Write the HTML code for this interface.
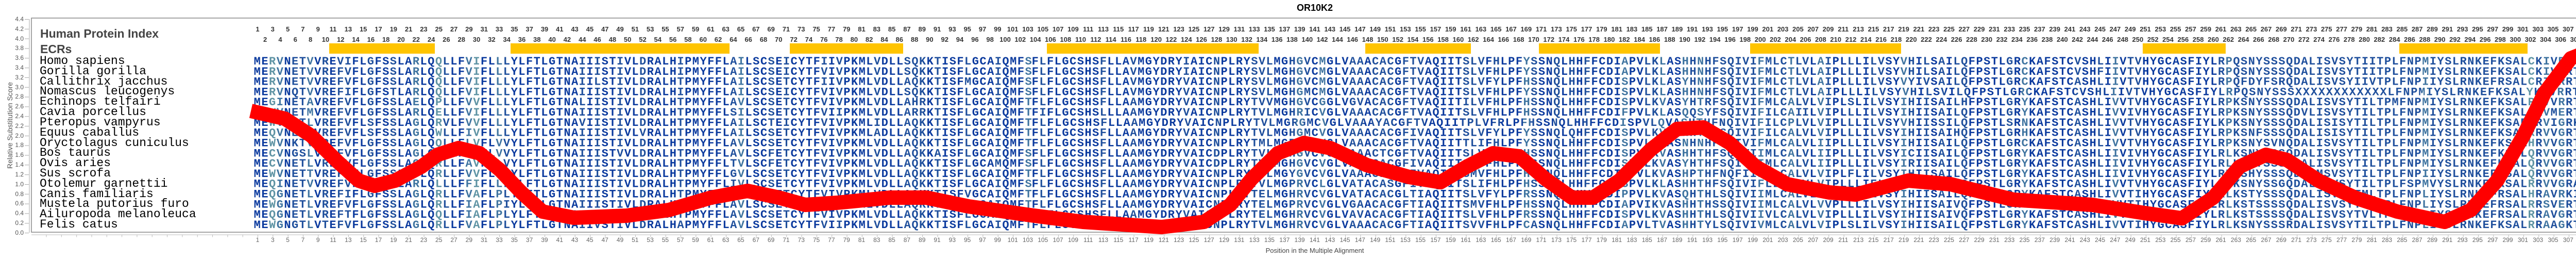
<!DOCTYPE html>
<html><head><meta charset="utf-8"><style>
body{margin:0;width:5102px;height:500px;overflow:hidden;background:#fff;position:relative;font-family:"Liberation Sans",sans-serif}
.sp{position:absolute;left:77px;top:109px;font:23px/19.81px "Liberation Mono",monospace;white-space:pre;color:#000}
.nr{position:absolute;display:flex;white-space:nowrap}
.nr i{font-style:normal;width:29.32px;min-width:29.32px;max-width:29.32px;flex:none;text-align:center;overflow:visible}
.top{font:bold 13px/16px "Liberation Sans",sans-serif;color:#333}
.bot{font:12px/14px "Liberation Sans",sans-serif;color:#666}
.hd{position:absolute;left:78px;font:bold 23px "Liberation Sans",sans-serif;color:#444}
</style></head><body>
<div class="hd" style="top:52px;">Human Protein Index</div>
<div class="hd" style="top:82px;">ECRs</div>
<div class="sp">Homo sapiens
Gorilla gorilla
Callithrix jacchus
Nomascus leucogenys
Echinops telfairi
Cavia porcellus
Pteropus vampyrus
Equus caballus
Oryctolagus cuniculus
Bos taurus
Ovis aries
Sus scrofa
Otolemur garnettii
Canis familiaris
Mustela putorius furo
Ailuropoda melanoleuca
Felis catus</div>
<div class="nr top" style="left:485.34px;top:49px"><i>1</i><i>3</i><i>5</i><i>7</i><i>9</i><i>11</i><i>13</i><i>15</i><i>17</i><i>19</i><i>21</i><i>23</i><i>25</i><i>27</i><i>29</i><i>31</i><i>33</i><i>35</i><i>37</i><i>39</i><i>41</i><i>43</i><i>45</i><i>47</i><i>49</i><i>51</i><i>53</i><i>55</i><i>57</i><i>59</i><i>61</i><i>63</i><i>65</i><i>67</i><i>69</i><i>71</i><i>73</i><i>75</i><i>77</i><i>79</i><i>81</i><i>83</i><i>85</i><i>87</i><i>89</i><i>91</i><i>93</i><i>95</i><i>97</i><i>99</i><i>101</i><i>103</i><i>105</i><i>107</i><i>109</i><i>111</i><i>113</i><i>115</i><i>117</i><i>119</i><i>121</i><i>123</i><i>125</i><i>127</i><i>129</i><i>131</i><i>133</i><i>135</i><i>137</i><i>139</i><i>141</i><i>143</i><i>145</i><i>147</i><i>149</i><i>151</i><i>153</i><i>155</i><i>157</i><i>159</i><i>161</i><i>163</i><i>165</i><i>167</i><i>169</i><i>171</i><i>173</i><i>175</i><i>177</i><i>179</i><i>181</i><i>183</i><i>185</i><i>187</i><i>189</i><i>191</i><i>193</i><i>195</i><i>197</i><i>199</i><i>201</i><i>203</i><i>205</i><i>207</i><i>209</i><i>211</i><i>213</i><i>215</i><i>217</i><i>219</i><i>221</i><i>223</i><i>225</i><i>227</i><i>229</i><i>231</i><i>233</i><i>235</i><i>237</i><i>239</i><i>241</i><i>243</i><i>245</i><i>247</i><i>249</i><i>251</i><i>253</i><i>255</i><i>257</i><i>259</i><i>261</i><i>263</i><i>265</i><i>267</i><i>269</i><i>271</i><i>273</i><i>275</i><i>277</i><i>279</i><i>281</i><i>283</i><i>285</i><i>287</i><i>289</i><i>291</i><i>293</i><i>295</i><i>297</i><i>299</i><i>301</i><i>303</i><i>305</i><i>307</i><i>309</i><i>311</i><i>N/A</i></div>
<div class="nr top" style="left:500px;top:69px"><i>2</i><i>4</i><i>6</i><i>8</i><i>10</i><i>12</i><i>14</i><i>16</i><i>18</i><i>20</i><i>22</i><i>24</i><i>26</i><i>28</i><i>30</i><i>32</i><i>34</i><i>36</i><i>38</i><i>40</i><i>42</i><i>44</i><i>46</i><i>48</i><i>50</i><i>52</i><i>54</i><i>56</i><i>58</i><i>60</i><i>62</i><i>64</i><i>66</i><i>68</i><i>70</i><i>72</i><i>74</i><i>76</i><i>78</i><i>80</i><i>82</i><i>84</i><i>86</i><i>88</i><i>90</i><i>92</i><i>94</i><i>96</i><i>98</i><i>100</i><i>102</i><i>104</i><i>106</i><i>108</i><i>110</i><i>112</i><i>114</i><i>116</i><i>118</i><i>120</i><i>122</i><i>124</i><i>126</i><i>128</i><i>130</i><i>132</i><i>134</i><i>136</i><i>138</i><i>140</i><i>142</i><i>144</i><i>146</i><i>148</i><i>150</i><i>152</i><i>154</i><i>156</i><i>158</i><i>160</i><i>162</i><i>164</i><i>166</i><i>168</i><i>170</i><i>172</i><i>174</i><i>176</i><i>178</i><i>180</i><i>182</i><i>184</i><i>186</i><i>188</i><i>190</i><i>192</i><i>194</i><i>196</i><i>198</i><i>200</i><i>202</i><i>204</i><i>206</i><i>208</i><i>210</i><i>212</i><i>214</i><i>216</i><i>218</i><i>220</i><i>222</i><i>224</i><i>226</i><i>228</i><i>230</i><i>232</i><i>234</i><i>236</i><i>238</i><i>240</i><i>242</i><i>244</i><i>246</i><i>248</i><i>250</i><i>252</i><i>254</i><i>256</i><i>258</i><i>260</i><i>262</i><i>264</i><i>266</i><i>268</i><i>270</i><i>272</i><i>274</i><i>276</i><i>278</i><i>280</i><i>282</i><i>284</i><i>286</i><i>288</i><i>290</i><i>292</i><i>294</i><i>296</i><i>298</i><i>300</i><i>302</i><i>304</i><i>306</i><i>308</i><i>310</i><i>312</i></div>
<div class="nr bot" style="left:485.34px;top:458px"><i>1</i><i>3</i><i>5</i><i>7</i><i>9</i><i>11</i><i>13</i><i>15</i><i>17</i><i>19</i><i>21</i><i>23</i><i>25</i><i>27</i><i>29</i><i>31</i><i>33</i><i>35</i><i>37</i><i>39</i><i>41</i><i>43</i><i>45</i><i>47</i><i>49</i><i>51</i><i>53</i><i>55</i><i>57</i><i>59</i><i>61</i><i>63</i><i>65</i><i>67</i><i>69</i><i>71</i><i>73</i><i>75</i><i>77</i><i>79</i><i>81</i><i>83</i><i>85</i><i>87</i><i>89</i><i>91</i><i>93</i><i>95</i><i>97</i><i>99</i><i>101</i><i>103</i><i>105</i><i>107</i><i>109</i><i>111</i><i>113</i><i>115</i><i>117</i><i>119</i><i>121</i><i>123</i><i>125</i><i>127</i><i>129</i><i>131</i><i>133</i><i>135</i><i>137</i><i>139</i><i>141</i><i>143</i><i>145</i><i>147</i><i>149</i><i>151</i><i>153</i><i>155</i><i>157</i><i>159</i><i>161</i><i>163</i><i>165</i><i>167</i><i>169</i><i>171</i><i>173</i><i>175</i><i>177</i><i>179</i><i>181</i><i>183</i><i>185</i><i>187</i><i>189</i><i>191</i><i>193</i><i>195</i><i>197</i><i>199</i><i>201</i><i>203</i><i>205</i><i>207</i><i>209</i><i>211</i><i>213</i><i>215</i><i>217</i><i>219</i><i>221</i><i>223</i><i>225</i><i>227</i><i>229</i><i>231</i><i>233</i><i>235</i><i>237</i><i>239</i><i>241</i><i>243</i><i>245</i><i>247</i><i>249</i><i>251</i><i>253</i><i>255</i><i>257</i><i>259</i><i>261</i><i>263</i><i>265</i><i>267</i><i>269</i><i>271</i><i>273</i><i>275</i><i>277</i><i>279</i><i>281</i><i>283</i><i>285</i><i>287</i><i>289</i><i>291</i><i>293</i><i>295</i><i>297</i><i>299</i><i>301</i><i>303</i><i>305</i><i>307</i><i>309</i><i>311</i><i>313</i></div>
<svg width="5102" height="500" style="position:absolute;left:0;top:0">
<defs>
<linearGradient id="g1" gradientUnits="userSpaceOnUse" x1="492.67" y1="0" x2="2002.65" y2="0"><stop offset="0" stop-color="#0b3a9e"/><stop offset="1" stop-color="#0b3a9e"/></linearGradient>
<linearGradient id="g2" gradientUnits="userSpaceOnUse" x1="2002.65" y1="0" x2="3497.97" y2="0"><stop offset="0" stop-color="#0b3a9e"/><stop offset="1" stop-color="#0b3a9e"/></linearGradient>
<linearGradient id="g3" gradientUnits="userSpaceOnUse" x1="3497.97" y1="0" x2="5081.25" y2="0"><stop offset="0" stop-color="#0b3a9e"/><stop offset="1" stop-color="#0b3a9e"/></linearGradient>
</defs>
<text x="2552" y="21" text-anchor="middle" font-family="Liberation Sans" font-weight="bold" font-size="18">OR10K2</text>
<rect x="61" y="35" width="5029" height="415" fill="none" stroke="#888" stroke-width="1.5"/>
<line x1="57" y1="37" x2="57" y2="451" stroke="#aaa"/>
<line x1="61" y1="455" x2="5090" y2="455" stroke="#bbb"/>
<line x1="89.52" y1="457" x2="5090" y2="457" stroke="#bbb" stroke-width="5" stroke-dasharray="1 28.32"/>
<line x1="52" y1="37" x2="52" y2="452" stroke="#aaa" stroke-width="8" stroke-dasharray="1 17.82"/>
<g font-family="Liberation Sans" font-size="12" fill="#555" text-anchor="end">
<text x="46" y="455">0.0</text><text x="46" y="436">0.2</text><text x="46" y="417">0.4</text><text x="46" y="398">0.6</text><text x="46" y="380">0.8</text><text x="46" y="361">1.0</text><text x="46" y="342">1.2</text><text x="46" y="323">1.4</text><text x="46" y="304">1.6</text><text x="46" y="285">1.8</text><text x="46" y="267">2.0</text><text x="46" y="248">2.2</text><text x="46" y="229">2.4</text><text x="46" y="210">2.6</text><text x="46" y="191">2.8</text><text x="46" y="173">3.0</text><text x="46" y="154">3.2</text><text x="46" y="135">3.4</text><text x="46" y="116">3.6</text><text x="46" y="97">3.8</text><text x="46" y="79">4.0</text><text x="46" y="60">4.2</text><text x="46" y="41">4.4</text>
</g>
<text transform="translate(24,243) rotate(-90)" text-anchor="middle" font-family="Liberation Sans" font-size="14" fill="#555">Relative Substitution Score</text>
<text x="2552" y="490" text-anchor="middle" font-family="Liberation Sans" font-size="13" fill="#444">Position in the Multiple Alignment</text>
<g fill="#ffc400">
<rect x="639" y="84" width="205" height="20"/><rect x="991" y="84" width="425" height="20"/><rect x="1533" y="84" width="220" height="20"/><rect x="2032" y="84" width="411" height="20"/><rect x="2650" y="84" width="205" height="20"/><rect x="2987" y="84" width="235" height="20"/><rect x="3397" y="84" width="293" height="20"/><rect x="4159" y="84" width="161" height="20"/><rect x="4657" y="84" width="249" height="20"/>
</g>
<g id="s1" data-g="g1" font-family="Liberation Mono" font-weight="bold" font-size="22" fill="url(#g1)" lengthAdjust="spacing">
<text x="492.67" y="125" textLength="1509.98" lengthAdjust="spacing">MERVNETVVREVIFLGFSSLARLQQLLFVIFLLLYLFTLGTNAIIISTIVLDRALHIPMYFFLAILSCSEICYTFIIVPKMLVDLLSQKKTISFLGCAIQMFS</text>
<text x="492.67" y="144.81" textLength="1509.98" lengthAdjust="spacing">MERVNETVVREFVFLGFSSLARLQQLLFVIFLLLYLFTLGTNAIIISTIVLDRALHIPMYFFLAILSCSEICYTFVIVPKMLVDLLSQKKTISFLGCAIQMFS</text>
<text x="492.67" y="164.62" textLength="1509.98" lengthAdjust="spacing">MERVNETVVREFVFLGFSSLARLQQLLFVIFLLLYLFTLGTNAIILSTIVLDRALHTPMYFFLAILSCSETCYTFIIVPKMLVDLLAQKKTISFMGCAIQMFS</text>
<text x="492.67" y="184.43" textLength="1509.98" lengthAdjust="spacing">MERVNQTVVREFIFLGFSTLARLQQLLFVIFLLLYLFTLGTNAIIISTIVLDRALHIPMYFFLAILSCSEICYTFVIVPKMLVDLLSQKKTISFLGCAIQMFS</text>
<text x="492.67" y="204.24" textLength="1509.98" lengthAdjust="spacing">MEGINETAVREFVFLGFSSLAELQPLLFVVFLLLYLFTLGTNALIISTIVLDRALHTPMYFFLAVLSCSETCYTFVIVPKMLVDLLAHRKTISFLGCAIQMFT</text>
<text x="492.67" y="224.05" textLength="1509.98" lengthAdjust="spacing">MEWVNETMVREFVFLGFSSLARLQELLFVIFLLLYLFTLGTNAIIISTIVLDRALHTPMYFFLSILSCSETCYTFVIIPKMLVDLLARRKTISFLGCAIQMFT</text>
<text x="492.67" y="243.86" textLength="1509.98" lengthAdjust="spacing">MEWVNETLVREFVFLSFSSLAGLQRVLFVVFLLLYLFTLGTNAVIISTIVLDRALHTPMYFFLAILSCTEICYTFVIVPKMLIDLLAQKKTISFLGCAIQMFT</text>
<text x="492.67" y="263.67" textLength="1509.98" lengthAdjust="spacing">MEQVNETLVREFVFLSFSSLAGLQWLLFIVFLLLYLFTLGTNAIIISTIVLVRALHTPMYFFLAILSCSETCYTFVIVPKMLADLLAQKKTISFLGCAIQMFT</text>
<text x="492.67" y="283.48" textLength="1509.98" lengthAdjust="spacing">MEWVNKTVVREFVFLGFSSLAGLQQLLFLVFLVVYLFTLGTNAIIISTIVLDRALHTPMYFFLAVLSCSETCYTFVIVPKMLVDLLAQKKTISFLGCAIQMFT</text>
<text x="492.67" y="303.29" textLength="1509.98" lengthAdjust="spacing">MECVNGSLVREFVFLGFSSLAGLQRLLFAVFLVVYLFTLGTNAIIISTVVLDRALHTPMYFFLAVLSCFETCYTFVIVPKMLVDLLAQKKAISFLGCAIQMFS</text>
<text x="492.67" y="323.1" textLength="1509.98" lengthAdjust="spacing">MECVNETLVREFVFLGFSSLAGLQRLLFAVFLLVYLFTLGTNAIIISTIVLDRALHTPMYFFLTVLSCFETCYTFVIVPKMLVDLLAQKKTISFLGCAMQMFS</text>
<text x="492.67" y="342.91" textLength="1509.98" lengthAdjust="spacing">MEWVNETTVREFTFLGFSSLAGLQRLLFVVFLLLYLFTLGTNAIIISTIVLDRALHTPMYFFLGVLSCSETCYTFVIVPKMLVDLLAQKKTISFLGCAIQMFT</text>
<text x="492.67" y="362.72" textLength="1509.98" lengthAdjust="spacing">MEQINETVVREFVFLGFSSLARLQLLLFFIFLLLYLFTLGTNAIIISTIVLDRALHTPMYFFLIVLSCSETCYTFVIVPKMLVDLLAQKKTISFLGCAIQMFS</text>
<text x="492.67" y="382.53" textLength="1509.98" lengthAdjust="spacing">MEQGNETLVREFIFLGFSSLAGLQRLLFVAFLPLYLFTLGTNAIIISTIVLDRALHTPMYFFLAVLSCSETCYTFVIVPKMLVDLLAQKKTISFVGCAIQMFT</text>
<text x="492.67" y="402.34" textLength="1509.98" lengthAdjust="spacing">MEWGNETLVREFVFLGFSSLAGLQRLLFIAFLPIYLFTLGTNAIIISTIVLDRALHTPMYFFLAVLSCSETCYTFVIVPKMLVDLLAQKKTISFLGCAIQMFT</text>
<text x="492.67" y="422.15" textLength="1509.98" lengthAdjust="spacing">MEQGNETLVREFTFLGFSSLAGLQQLLFIAFLPLYLFTLGTNAIIISTIVLDRALHTPMYFFLAVLSCSETCYTFVIVPKMLVDLLAQKKTISFLGCAIQMFT</text>
<text x="492.67" y="441.96" textLength="1509.98" lengthAdjust="spacing">MEWGNGTLVTEFVFLGFSSLAGLQRLLFVAFLPLYLFTLGTNAIIVSTIVLDRALHAPMYFFLAVLSCSETCYTFVIIPKMLVDLLAQKKTISFLGCAIQMFT</text>
</g>
<g id="s2" data-g="g2" font-family="Liberation Mono" font-weight="bold" font-size="22" fill="url(#g2)">
<text x="2002.65" y="125" textLength="1495.32" lengthAdjust="spacing">FLFLGCSHSFLLAVMGYDRYIAICNPLRYSVLMGHGVCMGLVAAACACGFTVAQIITSLVFHLPFYSSNQLHHFFCDIAPVLKLASHHNHFSQIVIFMLCTL</text>
<text x="2002.65" y="144.81" textLength="1495.32" lengthAdjust="spacing">FLFLGCSHSFLLAVMGYDRYIAICNPLRYSVLMGHGVCMGLVAAACACGFTVAQIITSLVFHLPFYSSNQLHHFFCDIAPVLKLASHHNHFSQIVIFMLCTL</text>
<text x="2002.65" y="164.62" textLength="1495.32" lengthAdjust="spacing">FLFLGCSHSFLLAVMGYDRYVAICNPLRYSVLMGHGVCMGLVAAACACGFTVAQIITSLVFYLPFHSSNQLHHFFCDISPVLKLASYHNHFSQIVIFMLCTL</text>
<text x="2002.65" y="184.43" textLength="1495.32" lengthAdjust="spacing">FLFLGCSHSFLLAVMGYDRYVAICNPLRYSVLMGHGMCMGLVAAACACGFTVAQIITSLVFHLPFYSSNQLHHFFCDISPVLKLASHHNHFSQIVIFMLCTL</text>
<text x="2002.65" y="204.24" textLength="1495.32" lengthAdjust="spacing">FLFLGCSHSFLLAAMGYDRYVAICNPLRYTVVMGHGVCGGLVGVACACGFTVAQIITILVFHLPFHSSNQLHHFFCDISPVLKVASYHTRFSQIVIFMLCAL</text>
<text x="2002.65" y="224.05" textLength="1495.32" lengthAdjust="spacing">FIFLGCSHSLLLAAMGYDRYVAICNPLRYTVLMGHRICVGLVAAACACGFTVAQIITSLVFHLPFHSSNQLHHFFCDIFPVLKLASQQSYFSQIVIFILCAI</text>
<text x="2002.65" y="243.86" textLength="1495.32" lengthAdjust="spacing">FLFLGCSHSFLLAAMGYDRYVAICNPLRYTVLMGRGMCVGLVAAAYACGFTVAQIITPLVFRLPFHSSNQLHHFFCDISPVLQVASHTHFNQIVIFILCPL</text>
<text x="2002.65" y="263.67" textLength="1495.32" lengthAdjust="spacing">FLFLGCSHSFLLAAMGYDRYVAICNPLRYTVLMGHGMCVGLVAAACACGFIVAQIITSLVFYLPFYSSNQLQHFFCDISPVLKVASHHTHFSQIVIFILCAL</text>
<text x="2002.65" y="283.48" textLength="1495.32" lengthAdjust="spacing">FLFLGCSHSFLLAAMGYDRYVAICNPLRYTMLMGPGVCVGLVAAACACGFTVAQIITTLIFHLPFYSSNQLHHFFCDISPVLKLASNHNHFSQIVIFMLCAL</text>
<text x="2002.65" y="303.29" textLength="1495.32" lengthAdjust="spacing">FLFLGCSHSFLLAAMGYDRYVAICDPLRYTVLMGHGVCVGLVAAACTCGFTVAQIITSLVFHLPFHSSNQLHHFFCDISPVLKVASHHTHFSQIVIIMLCAL</text>
<text x="2002.65" y="323.1" textLength="1495.32" lengthAdjust="spacing">FLFLGCSHSFLLAAMGYDRYVAICDPLRYTVLMGHGVCVGLVAAACACGFIVAQIITSLVFHLPFHSSNQLHHFFCDISPVLKVASYHTHFSQIVIIMLCAL</text>
<text x="2002.65" y="342.91" textLength="1495.32" lengthAdjust="spacing">FLFLGCSHSFLLAAMGYDRYVAICNPLRYTVLMGYGVCVGLVAAACFCGFIVAQIITSMVFHLPFHSSNQLHHFFCDISPVLKVASHPTHFNQFIIIMLCAL</text>
<text x="2002.65" y="362.72" textLength="1495.32" lengthAdjust="spacing">FLFLGCSHSFLLAAMGYDRYVAICNPLRYTVLMGPRVCLGLVATACASGFIVAQIITSLIFHLPFHSSNRLHHFFCDISPVLKLASHHTHFSQIVIFLLCTL</text>
<text x="2002.65" y="382.53" textLength="1495.32" lengthAdjust="spacing">FLFLGCSHSFLLAAMGYDRYVAICNPLRYTELMGHRVCVGLVATACACGLTIAQIITSLVFYLPFRSSNQLHHYFCDIPPVLKVASQHTHLSQIVIIMLCAL</text>
<text x="2002.65" y="402.34" textLength="1495.32" lengthAdjust="spacing">FLFLGCSHSFLLAAMGYDRYVAICNPLRYTELMGPRVCVGLVGAACACGFTIAQIITSMVFHLPFHSSNQLHHFFCDIAPVIKVASHHTHSSQIVIIMLCAL</text>
<text x="2002.65" y="422.15" textLength="1495.32" lengthAdjust="spacing">FLFLGCSHSFLLAAMGYDRYVAICNPLRYTELMGHRVCVGLVAVACACGFTIAQIITSLVFHLPFRSSNQLHHFFCDISPVLKVASHHTHLSQIVIIVLCAL</text>
<text x="2002.65" y="441.96" textLength="1495.32" lengthAdjust="spacing">FLFLGCSHSFLLAAMGYDRYVAICNPLRYTVLMGHRVCVGLVAAACACGFTIAQIITSVVFHLPFCASNQLHHFFCDIAPVLTVASHHTYLSQIVIVMLCAL</text>
</g>
<g id="s3" data-g="g3" font-family="Liberation Mono" font-weight="bold" font-size="22" fill="url(#g3)">
<text x="3497.97" y="125" textLength="1583.28" lengthAdjust="spacing">VLAIPLLLILVSYVHILSAILQFPSTLGRCKAFSTCVSHLIIVTVHYGCASFIYLRPQSNYSSSQDALISVSYTIITPLFNPMIYSLRNKEFKSALCKIVRRTISLL-</text>
<text x="3497.97" y="144.81" textLength="1583.28" lengthAdjust="spacing">VLAIPLLLILVSYVHILSAILQFPSTLGRCKAFSTCVSHFIIVTVHYGCASFIYLRPQSNYSSSQDALISVSYTIITPLFNPMIYSLRNKEFKSALCKIVRRTISLS-</text>
<text x="3497.97" y="164.62" textLength="1583.28" lengthAdjust="spacing">VLAIPLLLILVSYVYIVSAILQFPSTLGRCKAFSTCASHLIIVTVHYGCASFIYLRPQFDYFSRQDALISVSYIIVTPLFNPIIYSLRNKEFRSALCRIVRRTISLS-</text>
<text x="3497.97" y="184.43" textLength="1583.28" lengthAdjust="spacing">VLAIPLLLILVSYVHILSVILQFPSTLGRCKAFSTCVSHLIIVTVHYGCASFIYLRPQSNYSSSXXXXXXXXXXXXLFNPMIYSLRNKEFKSALYKIVRRTISLXX</text>
<text x="3497.97" y="204.24" textLength="1583.28" lengthAdjust="spacing">VLVIPLSLILVSYIHIISAILHFPSTLGRYKAFSTCASHLIVVTVHYGCASFIYLRPKSNYSSSQDALISVSYTILTPMFNPMIYSLRNKEFKSALRRVVRRTIPLXX</text>
<text x="3497.97" y="224.05" textLength="1583.28" lengthAdjust="spacing">ILVIPLLLILVSYIHIISAILQFPSTLGRYKAFSTCASHLIVVIVHYGCASFIYLRPKSNYSSSQDVLISVSYTILTPLFNPMIYSLRNKEFKSALCRVMERTIPLPQ</text>
<text x="3497.97" y="243.86" textLength="1583.28" lengthAdjust="spacing">VLVIPLLLILVSYVHIISSILQFPSTLSRNKAFSTCASHLIVVTVHYGCASFIYLKPKSNYSSSQDALISISYTILTPLFNPMIYSLRNKEFKSAFHRVIGRKLSLSQ</text>
<text x="3497.97" y="263.67" textLength="1583.28" lengthAdjust="spacing">VLVIPLLLILVSYIHIISAIHQFPSTLGRHKAFSTCASHLIVVTVHYGCASFIYLRPKSNFSSSQDALISISYTILTPLFNPMIYSLRNKEFKSALRRVVGRTISLPQ</text>
<text x="3497.97" y="283.48" textLength="1583.28" lengthAdjust="spacing">VLIIPLLLILVSYIHIISAILQFPSTLGRCKAFSTCASHLIVVTVHYGCASFIYLRPKSNYSVNQDALISVSYTILTPLFNPMIYSLRNKEFKSALHRVVGRTISLPC</text>
<text x="3497.97" y="303.29" textLength="1583.28" lengthAdjust="spacing">VLIIPLLLILVSYICIISAILQFPSTLGRYKAFSTCASHLIIVIVHYGCASFIYLRLKSNYSSSQDALISVSYTILTPLFNPMIYSLRNKEFKSALQRVVGRTICLS-</text>
<text x="3497.97" y="323.1" textLength="1583.28" lengthAdjust="spacing">VLIIPLLLILVSYIRIISAILQFPSTLGRYKAFSTCASHLIIVIVHYGCASFIYLRLKSNYSSSQDALISVSYTILTPLFNPMIYSLRNKEFKSALQRVVGRTICLS-</text>
<text x="3497.97" y="342.91" textLength="1583.28" lengthAdjust="spacing">VLVIPLFLILVSYIHIISAILQFPSTLGRYKAFSTCASHLIIVIVHYGCASFIYLRPKSHYSSSQDVLMSVSYTILTPLFNPIIYSLRNKEFKSALQRVVGRTISLLH</text>
<text x="3497.97" y="362.72" textLength="1583.28" lengthAdjust="spacing">VLVIPLLLIFLSYVHIISAILQFPSTLGRYKAFSTCASHLIVVTVHYGCASFIYLRPKSNYSSGQDALISVSYTILTPLFSPMVYSLRNKEFKSALRRVVGRAISLXX</text>
<text x="3497.97" y="382.53" textLength="1583.28" lengthAdjust="spacing">VLVIPLLLILVSYIHIISAILQFPSTLGRYKAFSTCASHLIVVTIHYGCASFIYLRLKSTYSSSQDALISVSYTMLTPLFNPLIYSLRNKEFRSALHRAVRKIIFLPQ</text>
<text x="3497.97" y="402.34" textLength="1583.28" lengthAdjust="spacing">VLVVPLLLILVSYIHIISAIVQFPSTLGRYKAFSTCASHLIVVTIHYGCASFIYLRLKSTSSSSQDALISVSYTILTPLFNPLIYSLRNKEFRSALRRSVERTISLPQ</text>
<text x="3497.97" y="422.15" textLength="1583.28" lengthAdjust="spacing">VLVIPLLLILVSYIHIISAIVQFPSTLGRYKAFSTCASHLIVVTIHYGCASFIYLRLKSTSSSSQDALISVSYTVLTPLFNPLIYSLRNKEFRSALRRAVGRTLSLPQ</text>
<text x="3497.97" y="441.96" textLength="1583.28" lengthAdjust="spacing">VLVIPLSLILVSYIHIISAILQFPSTLGRYKAFSTCASHLIVVTIHYGCASFIYLRLKSNYSSSRDALISVSYTILTPLFNPLIYSLRNKEFKSALRRAAGKTISLPR</text>
</g>
<polyline fill="none" stroke="#ff0000" stroke-width="28" stroke-linejoin="round" stroke-linecap="butt" points="487,215 553,230 604,263 655,313 696,350 727,360 767,350 818,323 849,300 890,287 931,297 971,330 1012,373 1053,410 1114,422 1216,418 1298,407 1380,383 1451,370 1512,383 1563,397 1624,393 1727,383 1798,383 1880,400 2000,417 2102,430 2255,440 2337,430 2388,397 2429,347 2480,297 2531,277 2582,287 2653,320 2735,343 2796,353 2847,323 2898,297 2949,303 3000,347 3051,383 3092,383 3143,350 3204,290 3255,250 3306,247 3357,277 3408,323 3469,357 3551,373 3602,377 3704,350 3786,357 3908,387 4061,397 4163,413 4235,423 4296,383 4347,323 4398,300 4439,310 4500,350 4571,383 4653,410 4745,430 4796,407 4847,350 4898,263 4939,180 4990,113 5041,93 5092,83"/>
</svg>
<script>
(function(){
var NS='http://www.w3.org/2000/svg',W=14.66;
['s1','s2','s3'].forEach(function(id){
var g=document.getElementById(id);
var gr=document.getElementById(g.getAttribute('data-g'));
var rows=[].map.call(g.querySelectorAll('text'),function(t){return t.textContent;});
var n=0;rows.forEach(function(r){if(r.length>n)n=r.length;});
while(gr.firstChild)gr.removeChild(gr.firstChild);
var total=parseFloat(gr.getAttribute('x2'))-parseFloat(gr.getAttribute('x1'));
for(var c=0;c<n;c++){
var cnt={},tot=0,mx=0;
rows.forEach(function(r){var ch=r[c];if(ch){cnt[ch]=(cnt[ch]||0)+1;tot++;}});
for(var k in cnt)if(cnt[k]>mx)mx=cnt[k];
var f=tot?mx/tot:1,col;
if(f>=1)col='#0b3a9e';else if(f>=0.7)col='#1f4f9c';else if(f>=0.45)col='#3f74a0';else if(f>=0.28)col='#5f94a4';else col='#8cc49c';
[c,c+1].forEach(function(p){var s=document.createElementNS(NS,'stop');s.setAttribute('offset',Math.min(1,p*W/total));s.setAttribute('stop-color',col);gr.appendChild(s);});
}
});
})();
</script>
</body></html>
